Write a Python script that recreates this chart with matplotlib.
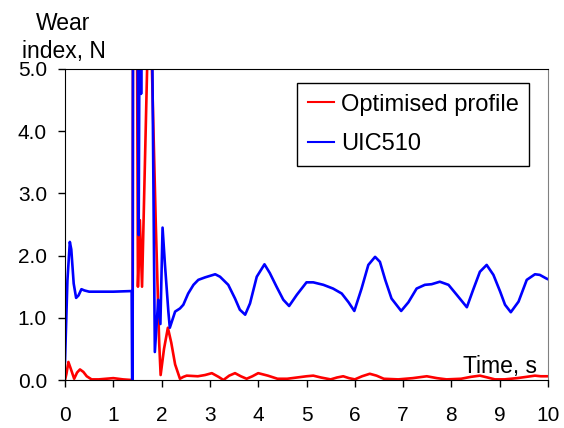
import numpy as np
import matplotlib.pyplot as plt
from matplotlib.ticker import FormatStrFormatter

plt.rcParams['font.family'] = ['Liberation Sans', 'DejaVu Sans']

# Optimised profile (red), >5 are clipped spikes
t_opt = [0.0, 0.03, 0.07, 0.12, 0.19, 0.25, 0.31, 0.38, 0.45, 0.55, 0.7, 0.85,
         1.0, 1.1, 1.2, 1.38, 1.40, 1.41, 1.48, 1.51, 1.55, 1.595, 1.70, 1.73,
         1.78, 1.80, 1.88, 1.95, 1.98, 2.05, 2.13, 2.2, 2.28, 2.38, 2.45, 2.52,
         2.75, 2.9, 3.04, 3.18, 3.28, 3.40, 3.52, 3.64, 3.76, 3.88, 4.0, 4.2,
         4.4, 4.6, 4.8, 5.0, 5.14, 5.3, 5.5, 5.63, 5.76, 5.88, 6.0, 6.15, 6.31,
         6.45, 6.6, 6.9, 7.2, 7.49, 7.7, 7.9, 8.2, 8.4, 8.59, 8.75, 8.9, 9.1,
         9.36, 9.55, 9.73, 9.85, 10.0]
w_opt = [0.0, 0.10, 0.29, 0.18, 0.02, 0.12, 0.17, 0.13, 0.06, 0.01, 0.01, 0.02,
         0.03, 0.02, 0.01, 0.0, 0.0, 8.0, 8.0, 1.50, 2.57, 1.50, 5.0, 8.0,
         8.0, 5.0, 2.5, 0.6, 0.08, 0.5, 0.84, 0.6, 0.25, 0.02, 0.05, 0.07,
         0.06, 0.08, 0.11, 0.05, 0.0, 0.07, 0.11, 0.06, 0.02, 0.06, 0.11, 0.07,
         0.02, 0.02, 0.04, 0.06, 0.07, 0.04, 0.01, 0.04, 0.06, 0.03, 0.01, 0.06, 0.10,
         0.07, 0.02, 0.01, 0.03, 0.06, 0.03, 0.01, 0.02, 0.05, 0.07, 0.04, 0.01, 0.01,
         0.03, 0.05, 0.07, 0.06, 0.06]

# UIC510 (blue)
t_uic = [0.0, 0.05, 0.10, 0.13, 0.18, 0.23, 0.28, 0.34, 0.40, 0.50, 1.0, 1.38,
         1.39, 1.40, 1.41, 1.49, 1.525, 1.555, 1.575, 1.60, 1.79, 1.81, 1.86,
         1.93, 1.975, 2.02, 2.07, 2.14, 2.17, 2.28, 2.38, 2.45, 2.55, 2.66,
         2.76, 2.90, 3.11, 3.21, 3.38, 3.52, 3.62, 3.73, 3.83, 3.97, 4.13,
         4.24, 4.38, 4.52, 4.64, 4.80, 5.00, 5.14, 5.35, 5.55, 5.73, 5.87,
         5.99, 6.14, 6.28, 6.42, 6.52, 6.63, 6.76, 6.96, 7.11, 7.28, 7.45,
         7.59, 7.76, 7.94, 8.11, 8.32, 8.45, 8.59, 8.73, 8.87, 9.01, 9.11,
         9.23, 9.39, 9.56, 9.73, 9.83, 9.97, 10.0]
w_uic = [0.30, 1.60, 2.22, 2.10, 1.55, 1.32, 1.36, 1.46, 1.44, 1.42, 1.42, 1.43,
         0.0, 0.0, 8.0, 8.0, 2.33, 8.0, 4.6, 8.0, 8.0, 5.0, 0.45,
         1.29, 0.90, 2.45, 1.85, 1.10, 0.84, 1.10, 1.15, 1.21, 1.39, 1.53,
         1.61, 1.65, 1.70, 1.66, 1.53, 1.31, 1.13, 1.05, 1.23, 1.66, 1.86,
         1.72, 1.50, 1.29, 1.19, 1.37, 1.57, 1.57, 1.53, 1.47, 1.39, 1.25,
         1.11, 1.47, 1.85, 1.98, 1.90, 1.61, 1.31, 1.11, 1.25, 1.47, 1.53,
         1.54, 1.58, 1.53, 1.37, 1.17, 1.45, 1.74, 1.85, 1.69, 1.42, 1.21,
         1.09, 1.26, 1.61, 1.70, 1.69, 1.63, 1.62]

x_ticks = np.arange(0, 11, 1)
y_ticks = np.arange(0, 6, 1.0)

fig = plt.figure(figsize=(5.64, 4.28), dpi=100)
ax = fig.add_axes([65/564, 1-380/428, 483/564, 311/428])

ax.plot(t_opt, w_opt, color='#ff0000', lw=1.9, label='Optimised profile')
ax.plot(t_uic, w_uic, color='#0000ff', lw=1.9, label='UIC510')

ax.set_xlim(0, 10)
ax.set_ylim(0, 5)
ax.set_xticks(x_ticks)
ax.set_yticks(y_ticks)
ax.yaxis.set_major_formatter(FormatStrFormatter('%.1f'))
ax.tick_params(axis='x', direction='out', length=5, width=1, pad=14, labelsize=15)
ax.tick_params(axis='y', direction='out', length=5, width=1, pad=8, labelsize=15)
ax.spines['right'].set_color('#808080')

leg = ax.legend(loc='upper right', bbox_to_anchor=(0.961, 0.955), fontsize=17,
                frameon=True, fancybox=False, edgecolor='black', framealpha=1,
                handlelength=1.1, handletextpad=0.3, labelspacing=0.75,
                borderpad=0.45, borderaxespad=0)
leg.get_frame().set_linewidth(1)
for ln in leg.get_lines():
    ln.set_linewidth(1.5)

ax.text(0.977, 0.0225, 'Time, s', transform=ax.transAxes, ha='right',
        va='baseline', fontsize=16.5)
fig.text(63/564, 1-30/428, 'Wear', ha='center', va='baseline', fontsize=16.5)
fig.text(64/564, 1-58/428, 'index, N', ha='center', va='baseline', fontsize=16.5)

fig.savefig('out.png', dpi=100)
